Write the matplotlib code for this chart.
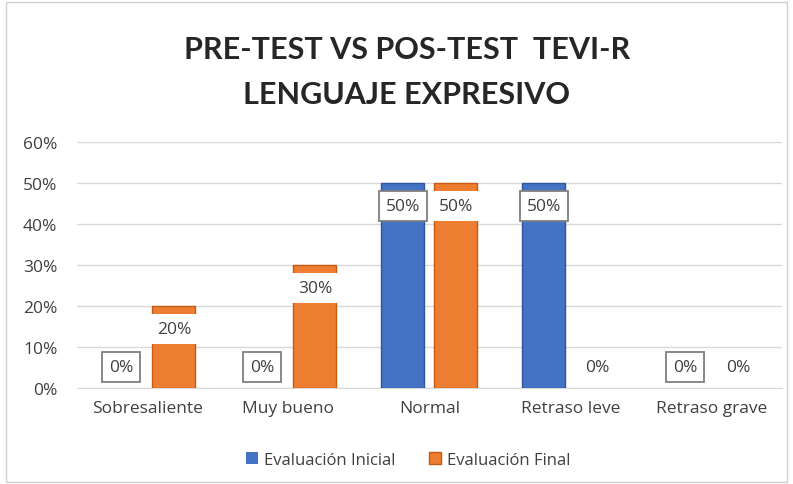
import matplotlib.pyplot as plt
import numpy as np
from matplotlib.patches import Rectangle

# datos
categorias = ["Sobresaliente", "Muy bueno", "Normal", "Retraso leve", "Retraso grave"]
inicial = [0, 0, 50, 50, 0]
final = [20, 30, 50, 0, 0]
y_ticks = [0, 10, 20, 30, 40, 50, 60]

plt.rcParams['font.family'] = ['Open Sans', 'DejaVu Sans']

fig = plt.figure(figsize=(7.93, 4.85), dpi=100)
ax = fig.add_axes([0.097, 0.198, 0.889, 0.507])

# borde del grafico
fig.patches.append(Rectangle((0.008, 0.004), 0.985, 0.99, transform=fig.transFigure,
                             fill=False, edgecolor='#d0d0d0', lw=1))

x = np.arange(len(categorias))
w = 0.305
off = 0.188
azul = '#4472C4'
naranja = '#ED7D31'
b1 = ax.bar(x - off, inicial, w, color=azul, edgecolor='#2F55A0', lw=1, label='Evaluación Inicial', zorder=3)
b2 = ax.bar(x + off, final, w, color=naranja, edgecolor='#C55A11', lw=1, label='Evaluación Final', zorder=3)
# sin borde en barras de 0
for barras, vals in [(b1, inicial), (b2, final)]:
    for b, v in zip(barras, vals):
        if v == 0:
            b.set_linewidth(0)

# etiquetas
for xi, v in zip(x - off, inicial):
    dy = -16.5 if v > 0 else 15
    ax.annotate(f"{v}%", (xi, v), xytext=(0, dy), textcoords='offset points', ha='center', va='center',
                fontsize=12.5, color='#404040', zorder=5,
                bbox=dict(boxstyle='square,pad=0.4', fc='white', ec='#7f7f7f', lw=1.3))
for xi, v in zip(x + off, final):
    dy = -16.5 if v > 0 else 15
    box = dict(boxstyle='square,pad=0.4', fc='white', ec='none')
    if v == 0:
        box = None
    ax.annotate(f"{v}%", (xi, v), xytext=(0, dy), textcoords='offset points', ha='center', va='center',
                fontsize=12.5, color='#404040', zorder=5, bbox=box)

ax.set_xlim(-0.5, 4.5)
ax.set_ylim(0, 60)
ax.set_yticks(y_ticks)
ax.set_yticklabels([f"{t}%" for t in y_ticks])
ax.set_xticks(x)
ax.set_xticklabels(categorias)
ax.tick_params(length=0, labelsize=12.5, labelcolor='#404040')
ax.tick_params(axis='y', pad=14)
ax.tick_params(axis='x', pad=9)
ax.yaxis.grid(True, color='#d9d9d9', lw=1, zorder=0)
for s in ['top', 'right', 'left']:
    ax.spines[s].set_visible(False)
ax.spines['bottom'].set_color('#d9d9d9')

fig.text(0.513, 0.897, "PRE-TEST VS POS-TEST  TEVI-R", ha='center', va='center',
         fontsize=22, fontweight='bold', color='#262626', family=['Lato', 'DejaVu Sans'])
fig.text(0.513, 0.804, "LENGUAJE EXPRESIVO", ha='center', va='center',
         fontsize=22, fontweight='bold', color='#262626', family=['Lato', 'DejaVu Sans'])

fig.legend(loc='center', bbox_to_anchor=(0.515, 0.05), ncol=2, frameon=False, fontsize=12,
           handlelength=0.7, handleheight=0.7, handletextpad=0.4, columnspacing=2.0,
           labelcolor='#404040')

fig.savefig('out.png', dpi=100)
